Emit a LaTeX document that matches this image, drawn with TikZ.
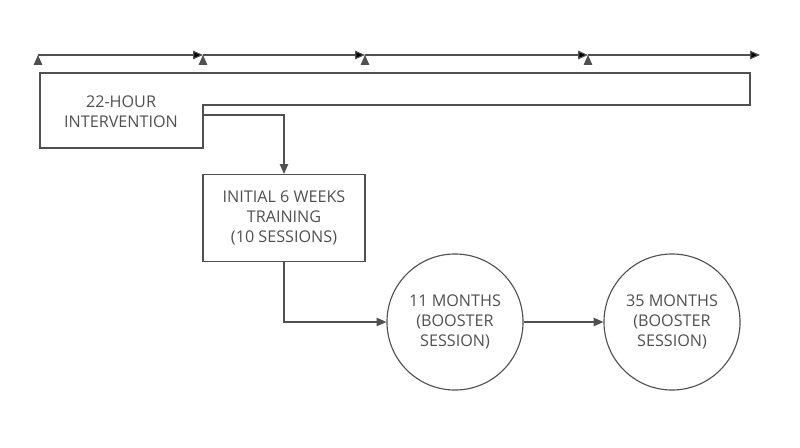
\documentclass[tikz,border=0pt]{standalone}
\usepackage{fontspec}
\setmainfont{Open Sans}
\usetikzlibrary{arrows.meta}
\definecolor{ink}{HTML}{505050}
\begin{document}
\begin{tikzpicture}[x=0.025cm,y=-0.025cm]
  \tikzstyle{flow}=[draw=ink, line width=0.8pt, -{Triangle[length=7pt,width=6pt]}]
  \tikzstyle{txt}=[text=ink, font=\fontsize{11.5}{14}\selectfont, align=center]
  \tikzstyle{box}=[txt, draw=ink, line width=0.8pt, minimum width=4.05cm, minimum height=2.175cm, inner sep=0pt]
  \tikzstyle{visit}=[txt, circle, draw=ink, line width=0.8pt, minimum size=3.4cm, inner sep=0pt]
  \useasboundingbox (0,0) rectangle (800,447);

  \coordinate (t0) at (38,55);
  \coordinate (t1) at (203,55);
  \coordinate (t2) at (365,55);
  \coordinate (t3) at (588,55);
  \coordinate (t4) at (760,55);

  \draw[ink, line width=0.8pt] (40,73) -- (750,73) -- (750,105) -- (203,105)
    -- (203,148) -- (40,148) -- cycle;
  \node[txt] (iv) at (121,112) {22-HOUR\\INTERVENTION};
  \coordinate (ivout) at (203,115);

  \node[box]   (init) at (284,218) {INITIAL 6 WEEKS\\TRAINING\\(10 SESSIONS)};
  \node[visit] (m11)  at (455,322) {11 MONTHS\\(BOOSTER\\SESSION)};
  \node[visit] (m35)  at (672,322) {35 MONTHS\\(BOOSTER\\SESSION)};

  \path[flow] (t0) edge (t1);
  \path[flow] (t1) edge (t2);
  \path[flow] (t2) edge (t3);
  \path[flow] (t3) edge (t4);

  \draw[flow] (ivout) -| (init.north);
  \draw[flow] (init.south) |- (m11.west);
  \draw[flow] (m11) -- (m35);
\end{tikzpicture}
\end{document}
